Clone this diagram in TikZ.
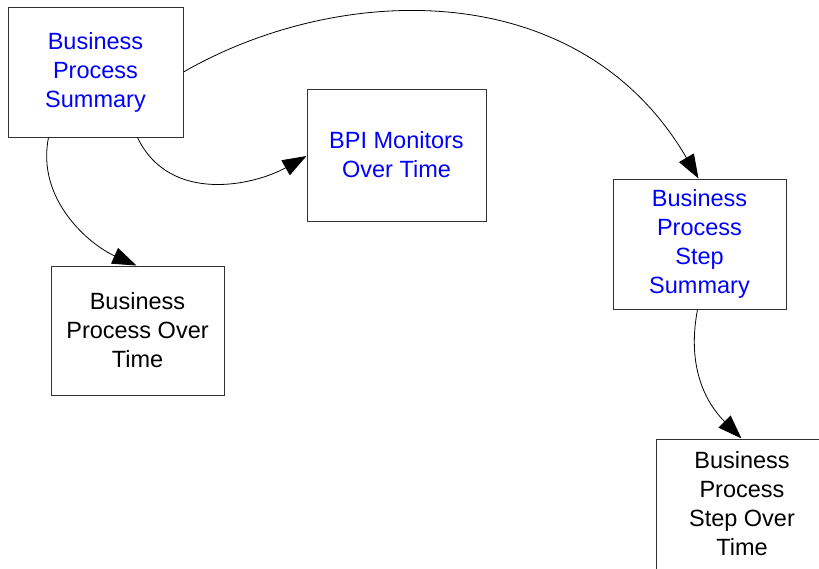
\documentclass[tikz,border=0pt]{standalone}
\usepackage{fontspec}
\setmainfont{Liberation Sans}
\usetikzlibrary{arrows.meta}
\definecolor{txtblue}{RGB}{0,0,255}
\definecolor{boxline}{RGB}{50,50,50}
\tikzset{
  box/.style={draw=boxline, line width=1pt, fill=white, rectangle, align=center, inner sep=0pt,
    font=\fontsize{23.5}{29}\selectfont},
  bluebox/.style={box, text=txtblue},
  conn/.style={line width=0.8pt, -{Triangle[length=24pt,width=17pt]}}
}
\begin{document}
\begin{tikzpicture}[x=1pt,y=-1pt]
\useasboundingbox (0,0) rectangle (819,568);
\node[bluebox, minimum width=175pt, minimum height=130pt] (b1) at (95.5,72) {\raisebox{-1.5pt}{\parbox{170pt}{\centering Business\\Process\\Summary}}};
\node[bluebox, minimum width=179pt, minimum height=132pt] (b2) at (396.5,155) {BPI Monitors\\Over Time};
\node[box, minimum width=173pt, minimum height=129pt] (b3) at (137.5,330.5) {Business\\Process Over\\Time};
\node[bluebox, minimum width=173pt, minimum height=130pt] (b4) at (699.5,244) {Business\\Process\\Step\\Summary};
\node[box, minimum width=172pt, minimum height=130pt] (b5) at (742,504) {Business\\Process\\Step Over\\Time};
\coordinate (a1) at ([xshift=41pt]b1.south west);
\coordinate (a2) at ([xshift=86pt]b3.north west);
\coordinate (c1) at ([xshift=130pt]b1.south west);
\coordinate (c2) at ([yshift=-1pt]b2.west);
\coordinate (d1) at ([yshift=0pt]b1.east);
\coordinate (d2) at ([xshift=86pt]b4.north west);
\coordinate (e1) at ([xshift=85pt]b4.south west);
\coordinate (e2) at ([xshift=86pt]b5.north west);
\draw[conn] (a1) .. controls (36,200) and (90,245) .. (a2);
\draw[conn] (c1) .. controls (170,205) and (255,185) .. (c2);
\draw[conn] (d1) .. controls (340,-18) and (580,-25) .. (d2);
\draw[conn] (e1) .. controls (686,370) and (708,405) .. (e2);
\end{tikzpicture}
\end{document}
